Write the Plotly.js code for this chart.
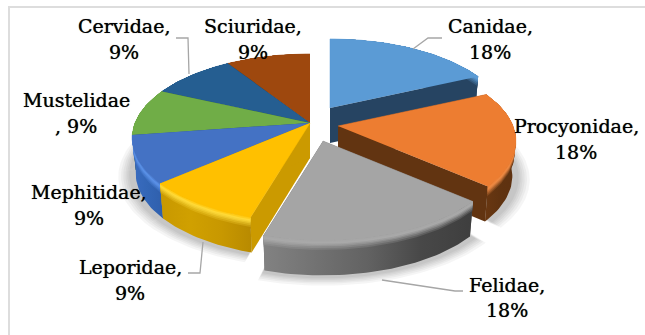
<!DOCTYPE html>
<html>
<head>
<meta charset="utf-8">
<script src="https://cdn.plot.ly/plotly-3.0.1.min.js"></script>
<style>html,body{margin:0;padding:0;background:#fff}#chart{width:645px;height:335px}</style>
</head>
<body>
<div id="chart"></div>
<script>
// Family shares (percent), clockwise from twelve o'clock.
const categories = ['Canidae','Procyonidae','Felidae','Leporidae','Mephitidae','Mustelidae','Cervidae','Sciuridae'];
const shares = [18,18,18,9,9,9,9,9];

// Face colours of each slice.
const topColors = ['#5B9BD5','#ED7D31','#A5A5A5','#FFC000','#4472C4','#70AD47','#255E91','#9E480E'];
const cutColors = ['#264462','#623411','#666666','#CB9A00','#2F5597','#4E7A32','#1A4266','#6E320A'];
const rimColors = ['#5B9BD5','#EE8A44','#A9A9A9','#FFDC3C','#5C93EA','#70AD47','#255E91','#9E480E'];
const wallStops = [
  ['#264462','#264462'],
  ['#6A3812','#603310','#5E3110'],
  ['#828282','#727272','#626262','#484848','#3E3E3E'],
  ['#C89800','#D0A000','#C89800','#B88A00'],
  ['#3A6CC0','#3366B6','#2F5FAC'],
  ['#4E7A32','#4E7A32'],
  ['#1A4266','#1A4266'],
  ['#6E320A','#6E320A']
];

// Ground-plane projection of the tilted disc.
const CX = 310, CY = 123, RX = 175, RY = 81.5, TILT = 0.18, DEPTH = 35, FOOT = 0.98;
// Screen offset of each pulled-out slice.
const explode = [[20,-15],[28,3],[13,18],[0,0],[0,0],[0,0],[0,0],[0,0]];
// Back slices first so nearer ones cover them.
const paintOrder = [7,6,5,0,4,3,1,2];

const BEVEL = [0.32,0.27,0.22,0.17,0.13,0.09,0.05];

const total = shares.reduce((a,b)=>a+b,0);
const spans = [];
shares.reduce((acc,s,i)=>{ spans[i]=[acc/total*360,(acc+s)/total*360]; return acc+s; },0);

function project(i,deg,r){
  const a = deg*Math.PI/180, u = r*Math.sin(a), v = -r*Math.cos(a), p = 1/(1-TILT*v);
  return [CX+explode[i][0]+RX*u*p, CY+explode[i][1]+RY*v*p];
}
function arc(i,a0,a1,r){
  const n = Math.max(2,Math.ceil(Math.abs(a1-a0)/1.5)), pts=[];
  for(let k=0;k<=n;k++) pts.push(project(i,a0+(a1-a0)*k/n,r));
  return pts;
}
const apex = i => project(i,0,0);
// Moves a top-face point down the side wall by the fraction f of its height.
function lower(i,pt,f){
  const A = apex(i), s = 1-(1-FOOT)*f;
  return [A[0]+(pt[0]-A[0])*s, pt[1]+DEPTH*f];
}
function hex(c){ return [1,3,5].map(k=>parseInt(c.slice(k,k+2),16)); }
function mix(a,b,t){
  const A=hex(a),B=hex(b);
  return 'rgb('+A.map((v,k)=>Math.round(v+(B[k]-v)*t)).join(',')+')';
}
function toHex(rgb){
  const m = rgb.match(/\d+/g).map(Number);
  return '#'+m.map(v=>v.toString(16).padStart(2,'0')).join('');
}
function poly(pts,extra){
  return Object.assign({
    type:'scatter',mode:'lines',x:pts.map(p=>p[0]),y:pts.map(p=>p[1]),
    fill:'toself',line:{width:0},hoverinfo:'skip',showlegend:false
  },extra);
}
function solid(pts,color,edge){
  return poly(pts,{fillcolor:color,line:{width:edge||0,color:color}});
}
function gradient(stops){
  return {type:'horizontal',colorscale:stops.map((c,k)=>[k/(stops.length-1),c])};
}

const traces = [];

// Soft ground shadow: radial growth only, so the gaps between slices stay clear.
[1.075,1.06,1.048,1.036,1.026,1.016].forEach(r=>{
  paintOrder.forEach(i=>{
    const [a0,a1] = spans[i];
    const outer = arc(i,a0,a1,r).map(p=>[p[0],p[1]+DEPTH+1]);
    traces.push(solid([apex(i)].concat(outer),'rgba(0,0,0,0.04)'));
  });
});

paintOrder.forEach(i=>{
  const [a0,a1] = spans[i];
  const A = apex(i), rim = arc(i,a0,a1,1);

  // Flat cut faces along both radial edges.
  [a0,a1].forEach(a=>{
    const E = project(i,a,1);
    traces.push(solid([A,E,lower(i,E,1),lower(i,A,1)],cutColors[i]));
  });

  // Outer wall, then the rounded rim bands from lowest to highest.
  const wallOf = f => rim.concat(rim.slice().reverse().map(p=>lower(i,p,f)));
  traces.push(poly(wallOf(1),{fillgradient:gradient(wallStops[i])}));
  BEVEL.forEach(f=>{
    const stops = wallStops[i].map(w=>{
      if(f>0.1) return toHex(mix(rimColors[i],w,Math.min(1,(f-0.1)/0.22)));
      return toHex(mix(topColors[i],rimColors[i],f/0.1));
    });
    traces.push(poly(wallOf(f),{fillgradient:gradient(stops)}));
  });

  // Top face.
  traces.push(solid([A].concat(rim),topColors[i],0.5));
});

// Two text lines per label; Mustelidae wraps before its comma.
const labelSpots = [[490,26,52],[576,126,152],[507,285,310],[130,267,293],[89,192,218],[76,100,126],[124,26,52],[253,26,52]];
const annotations = [];
categories.forEach((name,i)=>{
  const wraps = name === 'Mustelidae';
  const lines = wraps ? [name, ', '+shares[i]+'%'] : [name+',', shares[i]+'%'];
  lines.forEach((text,k)=>annotations.push({
    x:labelSpots[i][0],y:labelSpots[i][k+1],text:text,showarrow:false,
    xanchor:'center',yanchor:'middle',
    font:{family:'"DejaVu Serif",serif',size:19,color:'#000',shadow:'0 0 0.7px rgba(0,0,0,0.8)'}
  }));
});

// Leader lines and the frame.
const leader = d => ({type:'path',path:d,line:{color:'#A6A6A6',width:1.3},layer:'above'});
const shapes = [
  {type:'rect',x0:9,y0:7,x1:670,y1:360,line:{color:'#DDDDDD',width:2},layer:'below'},
  leader('M413,49 L428,38 L442,38'),
  leader('M382,280 L455,291 L463,291'),
  leader('M203,242 L200,273 L188,273'),
  leader('M189,74 L188,38 L176,38')
];

Plotly.newPlot('chart',traces,{
  width:645,height:335,autosize:false,
  margin:{l:0,r:0,t:0,b:0},
  paper_bgcolor:'#fff',plot_bgcolor:'#fff',
  showlegend:false,
  xaxis:{range:[0,645],visible:false,fixedrange:true},
  yaxis:{range:[335,0],visible:false,fixedrange:true},
  annotations:annotations,shapes:shapes
},{staticPlot:true,displayModeBar:false});
</script>
</body>
</html>
